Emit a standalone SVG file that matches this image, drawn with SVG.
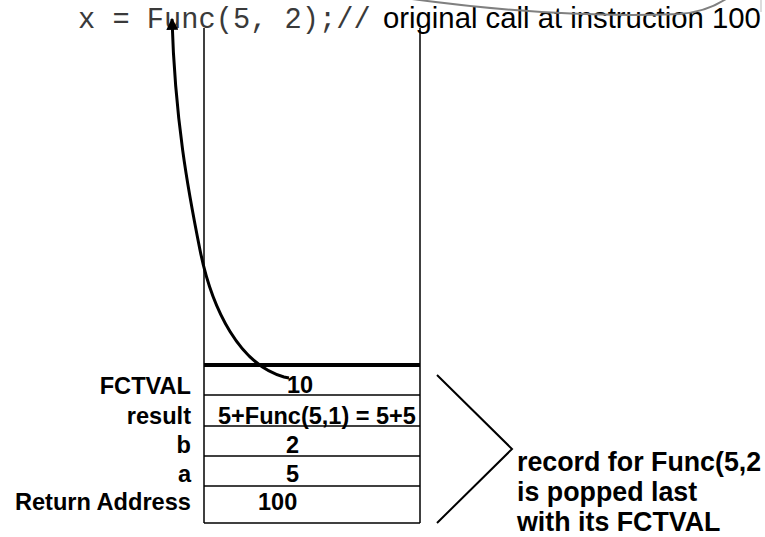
<svg xmlns="http://www.w3.org/2000/svg" width="765" height="537" viewBox="0 0 765 537">
<defs>
<style>
.mono{font-family:"Liberation Mono","Courier New",monospace;font-size:28.7px;fill:#3a3a3a}
.reg{font-family:"Liberation Sans",Arial,sans-serif;font-size:29.3px;fill:#000}
.lbl{font-family:"Liberation Sans",Arial,sans-serif;font-size:23.6px;font-weight:bold;fill:#000;text-anchor:end}
.val{font-family:"Liberation Sans",Arial,sans-serif;font-size:23.5px;font-weight:bold;fill:#000}
.note{font-family:"Liberation Sans",Arial,sans-serif;font-size:26.8px;font-weight:bold;fill:#000}
.thin{stroke:#000;stroke-width:1.5;fill:none}
</style>
<marker id="ah" viewBox="0 0 10 10" refX="9" refY="5" markerWidth="4" markerHeight="4" orient="auto" markerUnits="strokeWidth">
<path d="M0 0 L10 5 L0 10 z" fill="#000"/>
</marker>
</defs>
<rect width="765" height="537" fill="#fff"/>

<g id="code">
<text class="mono" x="78" y="28">x = Func(5, 2);//</text>
<text class="reg" x="383" y="27.5">original call at instruction 100</text>
</g>

<g id="stack">
<line class="thin" x1="204" y1="28" x2="204" y2="523"/>
<line class="thin" x1="420" y1="28" x2="420" y2="523"/>
<line class="thin" x1="204" y1="523" x2="420" y2="523"/>
<line x1="204" y1="365" x2="420" y2="365" stroke="#000" stroke-width="4"/>
</g>

<g id="row-fctval">
<text class="lbl" x="191" y="394">FCTVAL</text>
<text class="val" x="287" y="393">10</text>
<line class="thin" x1="204" y1="395" x2="420" y2="395"/>
</g>
<g id="row-result">
<text class="lbl" x="191" y="424">result</text>
<text class="val" x="218" y="424">5+Func(5,1) = 5+5</text>
<line class="thin" x1="204" y1="426" x2="420" y2="426"/>
</g>
<g id="row-b">
<text class="lbl" x="191" y="453">b</text>
<text class="val" x="286" y="453">2</text>
<line class="thin" x1="204" y1="456" x2="420" y2="456"/>
</g>
<g id="row-a">
<text class="lbl" x="191" y="482">a</text>
<text class="val" x="286" y="482">5</text>
<line class="thin" x1="204" y1="486" x2="420" y2="486"/>
</g>
<g id="row-return">
<text class="lbl" x="191" y="510">Return Address</text>
<text class="val" x="258" y="510">100</text>
</g>

<g id="record-note">
<polyline points="437,375 512,449 437,523" fill="none" stroke="#000" stroke-width="2"/>
<text class="note" x="517" y="471">record for Func(5,2</text>
<text class="note" x="517" y="501">is popped last</text>
<text class="note" x="517" y="531">with its FCTVAL</text>
</g>

<g id="connectors">
<path d="M 412 -1 Q 560 19 680 14 Q 706 12 726 -1" fill="none" stroke="#808080" stroke-width="2"/>
<line x1="761" y1="0" x2="761" y2="12" stroke="#d0d0d0" stroke-width="1.5"/>
<path d="M 289 378 L 284 377 C 240 365, 212 310, 200 250 C 188 190, 175 120, 172 19" fill="none" stroke="#000" stroke-width="3" marker-end="url(#ah)"/>
</g>
</svg>
